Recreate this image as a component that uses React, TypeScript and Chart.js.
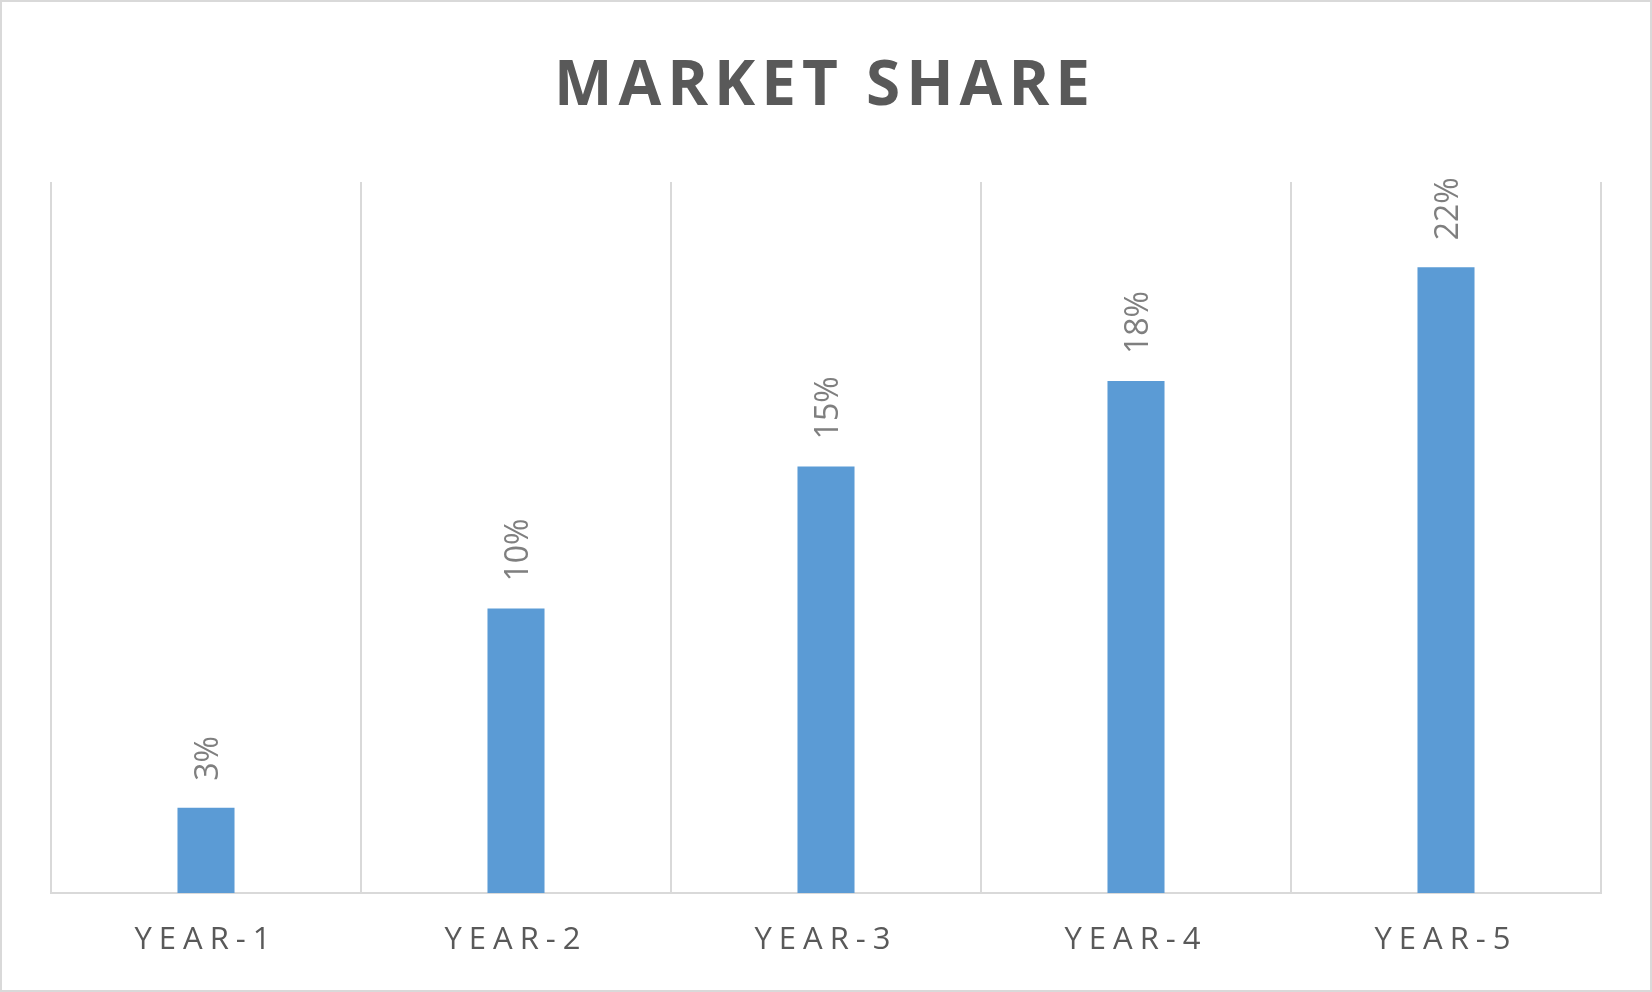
import { useEffect, useRef } from 'react';
import { Chart, registerables } from 'chart.js';

Chart.register(...registerables);

const categories: string[] = ['YEAR-1', 'YEAR-2', 'YEAR-3', 'YEAR-4', 'YEAR-5'];
const marketShare: number[] = [3, 10, 15, 18, 22];
const yAxisMax = 25;
const chartTitle = 'MARKET SHARE';

export default function App() {
  const ref = useRef<HTMLCanvasElement | null>(null);

  useEffect(() => {
    document.body.style.margin = '0';
    const canvas = ref.current;
    if (!canvas) return;

    const decor = {
      id: 'decor',
      beforeDraw(chart: any) {
        const ctx = chart.ctx as CanvasRenderingContext2D;
        ctx.save();
        ctx.fillStyle = '#ffffff';
        ctx.fillRect(0, 0, chart.width, chart.height);
        ctx.strokeStyle = '#d9d9d9';
        ctx.lineWidth = 2;
        ctx.strokeRect(1, 1, chart.width - 2, chart.height - 2);
        ctx.restore();
        (ctx as any).letterSpacing = '7px';
      },
      afterDatasetsDraw(chart: any) {
        const ctx = chart.ctx as CanvasRenderingContext2D;
        (ctx as any).letterSpacing = '0px';
        ctx.save();
        ctx.font = '32px "Open Sans"';
        ctx.fillStyle = '#7f7f7f';
        ctx.textAlign = 'left';
        ctx.textBaseline = 'middle';
        chart.getDatasetMeta(0).data.forEach((bar: any, i: number) => {
          ctx.save();
          ctx.translate(bar.x, bar.y - 27);
          ctx.rotate(-Math.PI / 2);
          ctx.fillText(`${marketShare[i]}%`, 0, 3);
          ctx.restore();
        });
        ctx.restore();
      },
      afterDraw(chart: any) {
        const ctx = chart.ctx as CanvasRenderingContext2D;
        ctx.save();
        const spacing = 6;
        (ctx as any).letterSpacing = `${spacing}px`;
        ctx.font = 'bold 62px "Open Sans"';
        ctx.fillStyle = '#595959';
        ctx.textAlign = 'center';
        ctx.textBaseline = 'alphabetic';
        ctx.fillText(chartTitle, 822 + spacing / 2, 105);
        ctx.restore();
        (ctx as any).letterSpacing = '0px';
      },
    };

    const chart = new Chart(canvas, {
      type: 'bar',
      data: {
        labels: categories,
        datasets: [
          {
            data: marketShare,
            backgroundColor: '#5b9bd5',
            borderWidth: 0,
            categoryPercentage: 1,
            barPercentage: 0.184,
          },
        ],
      },
      options: {
        responsive: false,
        animation: false,
        layout: { padding: { top: 182, left: 51, right: 51, bottom: 0 } },
        plugins: {
          legend: { display: false },
          title: { display: false },
          tooltip: { enabled: false },
        },
        scales: {
          x: {
            grid: {
              display: true,
              offset: true,
              color: '#d9d9d9',
              lineWidth: 2,
              drawTicks: false,
            },
            border: { display: true, color: '#d9d9d9', width: 2 },
            ticks: {
              color: '#595959',
              font: { family: '"Open Sans"', size: 31 },
              padding: 29,
              autoSkip: false,
              maxRotation: 0,
              minRotation: 0,
            },
            afterFit: (scale: any) => {
              scale.height = 99;
            },
          },
          y: {
            display: false,
            min: 0,
            max: yAxisMax,
          },
        },
      },
      plugins: [decor],
    });

    return () => {
      chart.destroy();
    };
  }, []);

  return (
    <div style={{ width: 1652, height: 992, position: 'relative' }}>
      <canvas ref={ref} width={1652} height={992} style={{ display: 'block', width: 1652, height: 992 }} />
    </div>
  );
}
